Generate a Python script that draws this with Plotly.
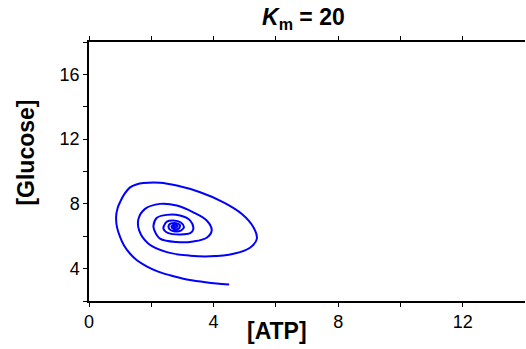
import plotly.graph_objects as go

# Trajectory in the ATP–Glucose phase plane
atp = [4.50, 4.10, 3.68, 3.10, 2.60, 2.20, 1.85, 1.55, 1.32, 1.12, 1.00, 0.90, 0.87, 0.92,
       1.02, 1.15, 1.32, 1.52, 1.75, 2.28, 2.82, 3.57, 4.32, 4.91, 5.28, 5.39, 5.17, 4.64,
       3.89, 3.25, 2.50, 1.91, 1.61, 1.59, 1.80, 2.28, 2.82, 3.35, 3.78, 3.94, 3.78, 3.35,
       2.82, 2.28, 2.10, 2.07, 2.18, 2.50, 2.92, 3.25, 3.35, 3.25, 2.92, 2.55, 2.39, 2.41,
       2.50, 2.71, 2.95, 3.05, 2.95, 2.76, 2.58, 2.57, 2.75, 2.92, 2.88, 2.72, 2.65, 2.77,
       2.85, 2.77, 2.72, 2.78]
glucose = [3.02, 3.08, 3.18, 3.35, 3.59, 3.83, 4.14, 4.50, 4.92, 5.45, 5.95, 6.55, 7.18, 7.75,
           8.20, 8.65, 9.02, 9.20, 9.29, 9.31, 9.13, 8.72, 8.10, 7.38, 6.56, 5.85, 5.29, 4.92,
           4.76, 4.80, 5.02, 5.54, 6.36, 7.08, 7.69, 8.00, 7.90, 7.48, 6.97, 6.36, 5.91, 5.68,
           5.64, 5.85, 6.36, 6.66, 7.14, 7.32, 7.28, 6.97, 6.46, 6.19, 6.11, 6.19, 6.46, 6.66,
           6.90, 6.97, 6.85, 6.56, 6.35, 6.30, 6.45, 6.70, 6.82, 6.68, 6.47, 6.45, 6.60, 6.72,
           6.62, 6.55, 6.62, 6.64]

x_ticks = [0, 2, 4, 6, 8, 10, 12]
x_labels = ["0", " ", "4", " ", "8", " ", "12"]
y_ticks = [2, 4, 6, 8, 10, 12, 14, 16, 18]
y_labels = [" ", "4", " ", "8", " ", "12", " ", "16", " "]

FONT = "Liberation Sans, Arial, sans-serif"
TICKFONT = dict(family=FONT, size=18, color="black")

fig = go.Figure()
fig.add_trace(go.Scatter(x=atp, y=glucose, mode="lines",
                         line=dict(color="#0000ff", width=2, shape="spline", smoothing=1),
                         showlegend=False, hoverinfo="skip"))
# invisible trace on the top axis
fig.add_trace(go.Scatter(x=[0], y=[2], xaxis="x2", mode="markers",
                         marker=dict(opacity=0), showlegend=False, hoverinfo="skip"))

axis_common = dict(showline=True, linecolor="black", linewidth=1.5, ticks="outside",
                   ticklen=4, tickwidth=1, tickcolor="black", showgrid=False, zeroline=False,
                   tickfont=TICKFONT)

fig.update_layout(
    width=526, height=349,
    margin=dict(l=89, r=1, t=42, b=48),
    paper_bgcolor="white", plot_bgcolor="white",
    font=dict(family=FONT, color="black", size=18),
    xaxis=dict(range=[0, 14], tickvals=x_ticks, ticktext=x_labels, **axis_common),
    xaxis2=dict(range=[0, 14], tickvals=x_ticks, overlaying="x", side="top", anchor="y",
                showticklabels=False, **axis_common),
    yaxis=dict(range=[2, 18], tickvals=y_ticks, ticktext=y_labels, **axis_common),
    annotations=[
        dict(text="<b><i>K</i><sub>m</sub> = 20</b>", xref="paper", yref="paper",
             x=0.491, y=1.09, xanchor="center", yanchor="middle", showarrow=False,
             font=dict(size=23, family=FONT)),
        dict(text="<b>[ATP]</b>", xref="paper", yref="paper",
             x=0.431, y=-0.116, xanchor="center", yanchor="middle", showarrow=False,
             font=dict(size=23, family=FONT)),
        dict(text="<b>[Glucose]</b>", xref="paper", yref="paper", textangle=-90,
             x=-0.1445, y=0.573, xanchor="center", yanchor="middle", showarrow=False,
             font=dict(size=23, family=FONT)),
    ],
)

fig.write_html("out.html")
